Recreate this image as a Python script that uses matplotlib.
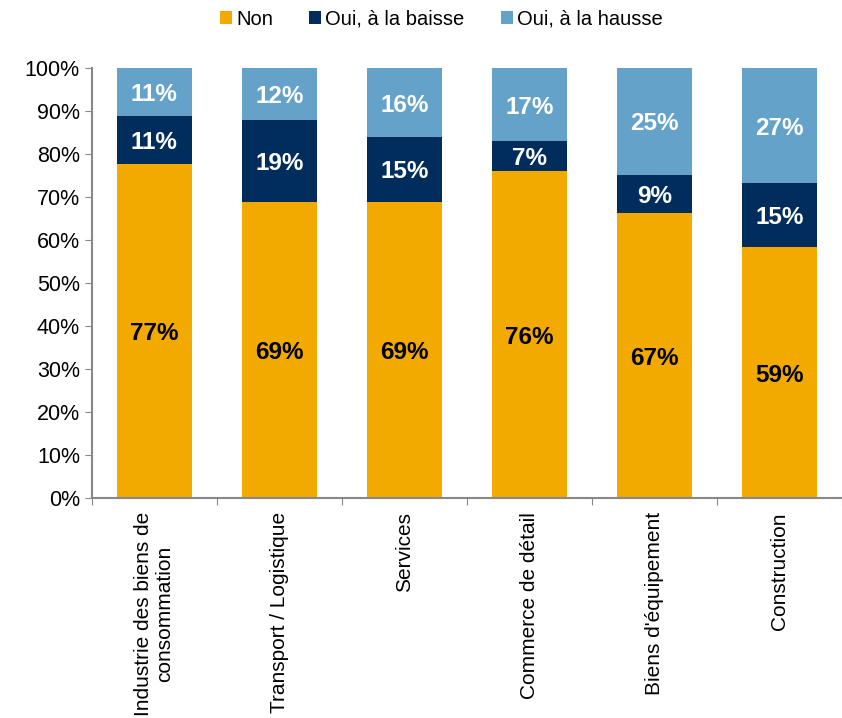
import matplotlib.pyplot as plt
import numpy as np

plt.rcParams['font.family'] = ['Liberation Sans', 'DejaVu Sans']

categories = ['Industrie des biens de\nconsommation', 'Transport / Logistique', 'Services',
              'Commerce de détail', "Biens d'équipement", 'Construction']
non = np.array([77, 69, 69, 76, 67, 59])
baisse = np.array([11, 19, 15, 7, 9, 15])
hausse = np.array([11, 12, 16, 17, 25, 27])

series = [('Non', non, '#F2A900', 'black'),
          ('Oui, à la baisse', baisse, '#002D5C', 'white'),
          ('Oui, à la hausse', hausse, '#64A2CA', 'white')]

total = non + baisse + hausse
x = np.arange(len(categories))

fig = plt.figure(figsize=(8.42, 7.18), dpi=100)
ax = fig.add_axes([0.109, 0.306, 0.891, 0.599])

bottom = np.zeros(len(categories))
for name, vals, color, tcolor in series:
    share = vals / total * 100
    ax.bar(x, share, width=0.6, bottom=bottom, color=color, label=name)
    for xi, b, s, v in zip(x, bottom, share, vals):
        ax.text(xi, b + s / 2, f'{v}%', ha='center', va='center_baseline',
                color=tcolor, fontsize=17.5, fontweight='bold')
    bottom += share

ax.set_xlim(-0.5, len(categories) - 0.5)
ax.set_ylim(0, 100)
ax.set_yticks(np.arange(0, 101, 10))
ax.set_yticklabels([f'{v}%' for v in range(0, 101, 10)], fontsize=15.5)

ax.set_xticks(np.arange(-0.5, len(categories), 1))
ax.set_xticklabels([])
ax.tick_params(axis='x', length=5, color='#888888', direction='out')
ax.tick_params(axis='y', length=5, color='#888888', direction='out')
for xi, lab in zip(x, categories):
    ax.text(xi, -3.2, lab, rotation=90, ha='center', va='top', fontsize=15,
            multialignment='center', linespacing=1.15)

for side in ['top', 'right']:
    ax.spines[side].set_visible(False)
for side in ['left', 'bottom']:
    ax.spines[side].set_color('#888888')
    ax.spines[side].set_linewidth(1.5)

fig.legend(loc='upper center', bbox_to_anchor=(0.524, 1.012), ncol=3, frameon=False,
           fontsize=14.5, handlelength=0.6, handleheight=0.6, handletextpad=0.2,
           columnspacing=1.8)

fig.savefig('out.png', dpi=100)
